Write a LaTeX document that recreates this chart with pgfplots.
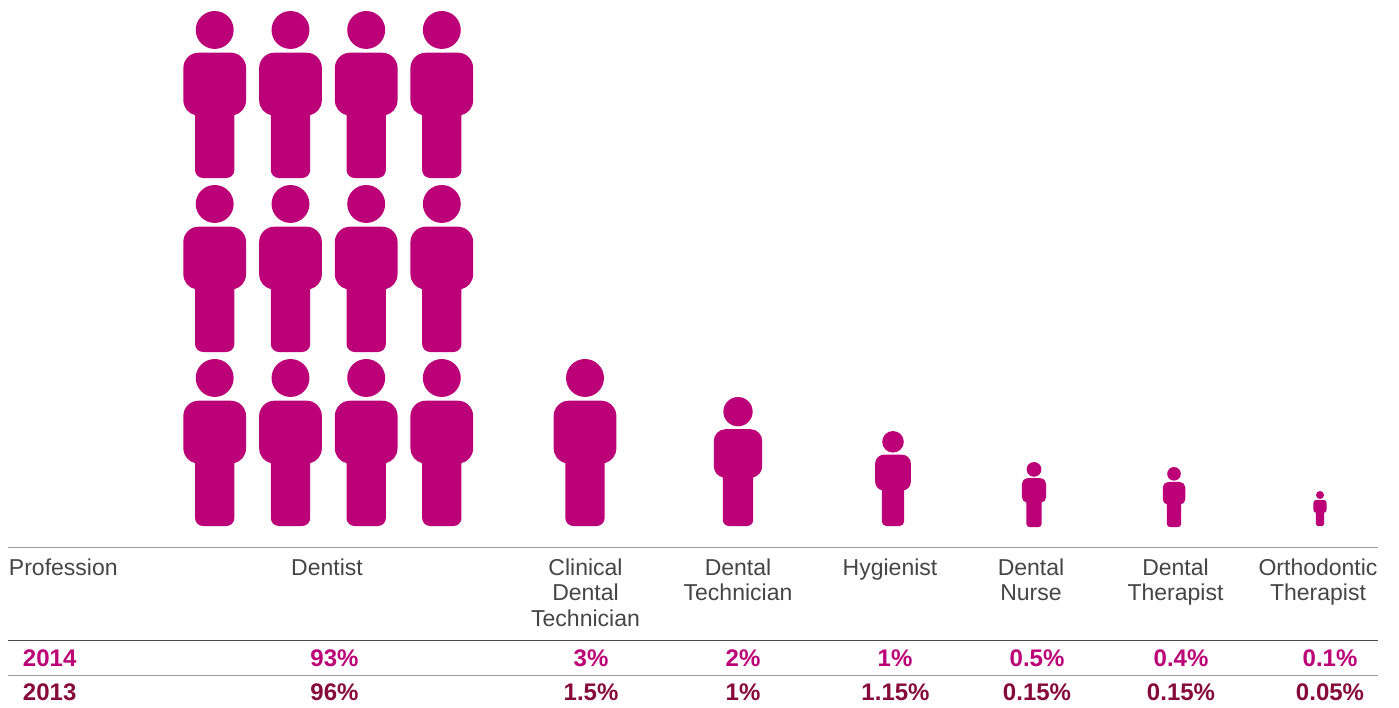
\documentclass[border=0pt]{standalone}
\usepackage{pgfplots}
\usepackage{pgfplotstable}
\usepackage{fontspec}
\setmainfont{Liberation Sans}
\pgfplotsset{compat=1.18}
\definecolor{pinkP}{HTML}{BC0077}
\definecolor{wine}{HTML}{860A3A}
\definecolor{txt}{HTML}{454545}
\definecolor{ruleG}{HTML}{969696}
\definecolor{ruleD}{HTML}{4A4A4A}
% person glyph: height equals the mark size, origin at the feet
\pgfdeclareplotmark{person}{%
  \pgfmathsetmacro\personS{\pgfplotmarksize/167.3}%
  \pgfsetfillcolor{pinkP}%
  \pgftransformscale{\personS}%
  \pgfpathcircle{\pgfqpoint{0pt}{148.3pt}}{19pt}%
  % torso with rounded corners
  \pgfpathmoveto{\pgfqpoint{-16.4pt}{125.5pt}}%
  \pgfpathlineto{\pgfqpoint{16.4pt}{125.5pt}}%
  \pgfpathcurveto{\pgfqpoint{25pt}{125.5pt}}{\pgfqpoint{31.4pt}{118pt}}{\pgfqpoint{31.4pt}{110.5pt}}%
  \pgfpathlineto{\pgfqpoint{31.4pt}{78pt}}%
  \pgfpathcurveto{\pgfqpoint{31.4pt}{70pt}}{\pgfqpoint{26pt}{64.5pt}}{\pgfqpoint{19.7pt}{63pt}}%
  \pgfpathlineto{\pgfqpoint{19.7pt}{8pt}}%
  \pgfpathcurveto{\pgfqpoint{19.7pt}{3.5pt}}{\pgfqpoint{16pt}{0pt}}{\pgfqpoint{11.7pt}{0pt}}%
  \pgfpathlineto{\pgfqpoint{-11.7pt}{0pt}}%
  \pgfpathcurveto{\pgfqpoint{-16pt}{0pt}}{\pgfqpoint{-19.7pt}{3.5pt}}{\pgfqpoint{-19.7pt}{8pt}}%
  \pgfpathlineto{\pgfqpoint{-19.7pt}{63pt}}%
  \pgfpathcurveto{\pgfqpoint{-26pt}{64.5pt}}{\pgfqpoint{-31.4pt}{70pt}}{\pgfqpoint{-31.4pt}{78pt}}%
  \pgfpathlineto{\pgfqpoint{-31.4pt}{110.5pt}}%
  \pgfpathcurveto{\pgfqpoint{-31.4pt}{118pt}}{\pgfqpoint{-25pt}{125.5pt}}{\pgfqpoint{-16.4pt}{125.5pt}}%
  \pgfpathclose
  \pgfusepathqfill
}
\pgfplotstableread{
x     y    h
214.7 178  167
290.5 178  167
366.2 178  167
441.8 178  167
214.7 352  167
290.5 352  167
366.2 352  167
441.8 352  167
214.7 526  167
290.5 526  167
366.2 526  167
441.8 526  167
585   526  167
738   526  129
893   526  95
1034  527  65
1174  527  60
1320  526  35
}\people
\newcommand{\hd}[3]{\node[anchor=base,font=\fontsize{23}{25.5}\selectfont,text=txt] at (axis cs:#1,#2) {#3};}
\newcommand{\vala}[2]{\node[anchor=base,font=\fontsize{24}{26}\selectfont\bfseries,text=pinkP] at (axis cs:#1,666) {#2};}
\newcommand{\valb}[2]{\node[anchor=base,font=\fontsize{24}{26}\selectfont\bfseries,text=wine] at (axis cs:#1,700) {#2};}
\begin{document}
\begin{tikzpicture}[inner sep=0pt,outer sep=0pt]
\begin{axis}[
  at={(0pt,0pt)},anchor=south west,
  scale only axis,width=1399pt,height=707pt,
  xmin=0,xmax=1399,ymin=0,ymax=707,y dir=reverse,
  hide axis,clip=false]
\addplot[only marks,mark=person,scatter,
  visualization depends on={\thisrow{h} \as \perpointmarksize},
  scatter/@pre marker code/.append style={/tikz/mark size=\perpointmarksize}]
  table[x=x,y=y] {\people};
\addplot[ruleG,line width=1pt] coordinates {(8,547) (1378,547)};
\addplot[ruleD,line width=1pt] coordinates {(8,640.5) (1378,640.5)};
\addplot[ruleG,line width=1pt] coordinates {(8,675) (1378,675)};
\node[anchor=base west,font=\fontsize{23}{25.5}\selectfont,text=txt] at (axis cs:9,575) {Profession};
\hd{327}{575}{Dentist}
\hd{585.5}{575}{Clinical}
\hd{585.5}{600.5}{Dental}
\hd{585.5}{626}{Technician}
\hd{738}{575}{Dental}
\hd{738}{600.5}{Technician}
\hd{890}{575}{Hygienist}
\hd{1031}{575}{Dental}
\hd{1031}{600.5}{Nurse}
\hd{1175.5}{575}{Dental}
\hd{1175.5}{600.5}{Therapist}
\hd{1318}{575}{Orthodontic}
\hd{1318}{600.5}{Therapist}
\node[anchor=base west,font=\fontsize{24}{26}\selectfont\bfseries,text=pinkP] at (axis cs:23,666) {2014};
\node[anchor=base west,font=\fontsize{24}{26}\selectfont\bfseries,text=wine] at (axis cs:23,700) {2013};
\vala{334.5}{93\%}\vala{591}{3\%}\vala{743}{2\%}\vala{895}{1\%}\vala{1037}{0.5\%}\vala{1181}{0.4\%}\vala{1330}{0.1\%}
\valb{334.5}{96\%}\valb{591}{1.5\%}\valb{743}{1\%}\valb{895.5}{1.15\%}\valb{1037}{0.15\%}\valb{1181}{0.15\%}\valb{1330}{0.05\%}
\end{axis}
\path[use as bounding box] (0,0) rectangle (1399pt,707pt);
\end{tikzpicture}
\end{document}
